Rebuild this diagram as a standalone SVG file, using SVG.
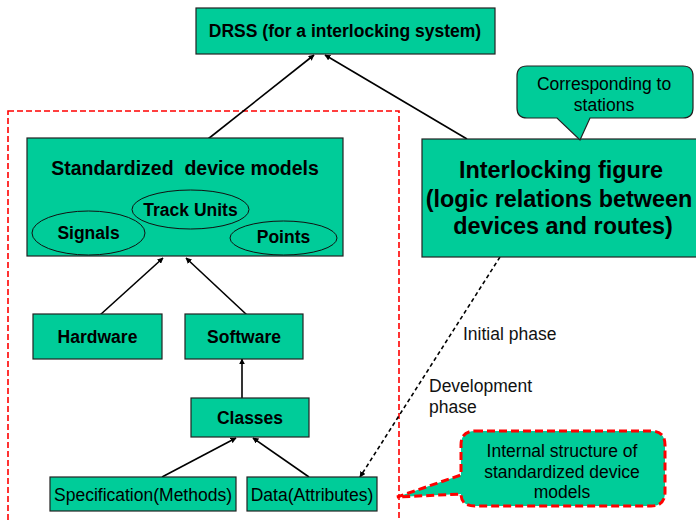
<svg xmlns="http://www.w3.org/2000/svg" width="696" height="520" viewBox="0 0 696 520">
  <style>
    .box { fill: #00CC99; stroke: #222; stroke-width: 1.2; }
    .ell { fill: #00CC99; stroke: #111; stroke-width: 1; }
    .t { font-family: "Liberation Sans", Arial, sans-serif; font-size: 17.5px; fill: #000; text-anchor: middle; }
    .b { font-weight: bold; }
    .big { font-size: 23.4px; }
    .lbl { font-family: "Liberation Sans", Arial, sans-serif; font-size: 17.5px; fill: #111; }
    .arrow { stroke: #000; stroke-width: 1.6; fill: none; marker-end: url(#ah); }
    .dash { stroke: #000; stroke-width: 1.6; fill: none; stroke-dasharray: 4 3; marker-end: url(#ah); }
    .region { fill: none; stroke: #FF0000; stroke-width: 1.6; stroke-dasharray: 6 3; }
  </style>
  <defs>
    <marker id="ah" viewBox="0 0 10 10" refX="9" refY="5" markerWidth="6" markerHeight="6" markerUnits="userSpaceOnUse" orient="auto">
      <path d="M0,0 L10,5 L0,10 Z" fill="#000"/>
    </marker>
  </defs>

  <!-- dashed boundary around the device-model structure -->
  <rect class="region" x="8" y="111" width="391" height="430"/>

  <!-- connectors -->
  <g id="connectors">
    <line class="arrow" x1="208" y1="139" x2="314" y2="55"/>
    <line class="arrow" x1="467" y1="139" x2="325" y2="55"/>
    <line class="arrow" x1="100" y1="315" x2="163" y2="258"/>
    <line class="arrow" x1="247" y1="315" x2="186" y2="258"/>
    <line class="arrow" x1="242" y1="398" x2="242" y2="359"/>
    <line class="arrow" x1="162" y1="477" x2="236" y2="438"/>
    <line class="arrow" x1="309" y1="477" x2="253" y2="438"/>
    <line class="dash" x1="500" y1="257" x2="360" y2="477"/>
  </g>

  <g id="drss">
    <rect class="box" x="196" y="8" width="299" height="46"/>
    <text class="t b" x="345" y="37">DRSS (for a interlocking system)</text>
  </g>

  <g id="device-models">
    <rect class="box" x="27" y="138" width="316" height="118"/>
    <text class="t b" x="185" y="175" font-size="19.5" style="font-size:19.5px" xml:space="preserve">Standardized  device models</text>
  </g>
  <g id="track-units">
    <ellipse class="ell" cx="190.5" cy="209.5" rx="58.5" ry="19.5"/>
    <text class="t b" x="190.5" y="216">Track Units</text>
  </g>
  <g id="signals">
    <ellipse class="ell" cx="88.5" cy="233" rx="56.5" ry="22"/>
    <text class="t b" x="88.5" y="239">Signals</text>
  </g>
  <g id="points">
    <ellipse class="ell" cx="283.5" cy="238" rx="53.5" ry="17"/>
    <text class="t b" x="283.5" y="243">Points</text>
  </g>

  <g id="interlocking-figure">
    <rect class="box" x="422" y="139" width="290" height="118"/>
    <text class="t b big" x="561" y="178">Interlocking figure</text>
    <text class="t b big" x="559" y="207">(logic relations between</text>
    <text class="t b big" x="563" y="234">devices and routes)</text>
  </g>

  <g id="stations-note">
    <path class="box" d="M527,66 H683 Q693,66 693,76 V108 Q693,118 683,118 H590 L580,140 L557,118 H527 Q517,118 517,108 V76 Q517,66 527,66 Z"/>
    <text class="t" x="604" y="90">Corresponding to</text>
    <text class="t" x="604" y="111">stations</text>
  </g>

  <g id="hardware">
    <rect class="box" x="33" y="314" width="129" height="45"/>
    <text class="t b" x="97.5" y="343">Hardware</text>
  </g>
  <g id="software">
    <rect class="box" x="185" y="314" width="118" height="45"/>
    <text class="t b" x="244" y="343">Software</text>
  </g>
  <g id="classes">
    <rect class="box" x="191" y="398" width="118" height="39"/>
    <text class="t b" x="250" y="424">Classes</text>
  </g>
  <g id="specification">
    <rect class="box" x="50" y="477" width="186" height="34"/>
    <text class="t" x="143" y="501">Specification(Methods)</text>
  </g>
  <g id="data">
    <rect class="box" x="247" y="477" width="130" height="34"/>
    <text class="t" x="312" y="501">Data(Attributes)</text>
  </g>

  <g id="phase-labels">
    <text class="lbl" x="463" y="340">Initial phase</text>
    <text class="lbl" x="429" y="392">Development</text>
    <text class="lbl" x="429" y="413">phase</text>
  </g>

  <g id="structure-note">
    <path d="M475,431 H651 Q665,431 665,445 V492 Q665,506 651,506 H475 Q461,506 461,494 L397,497 L461,475 V445 Q461,431 475,431 Z" fill="#00CC99" stroke="#FF0000" stroke-width="3" stroke-dasharray="8 4"/>
    <text class="t" x="562" y="457">Internal structure of</text>
    <text class="t" x="562" y="478">standardized device</text>
    <text class="t" x="562" y="498">models</text>
  </g>
</svg>
